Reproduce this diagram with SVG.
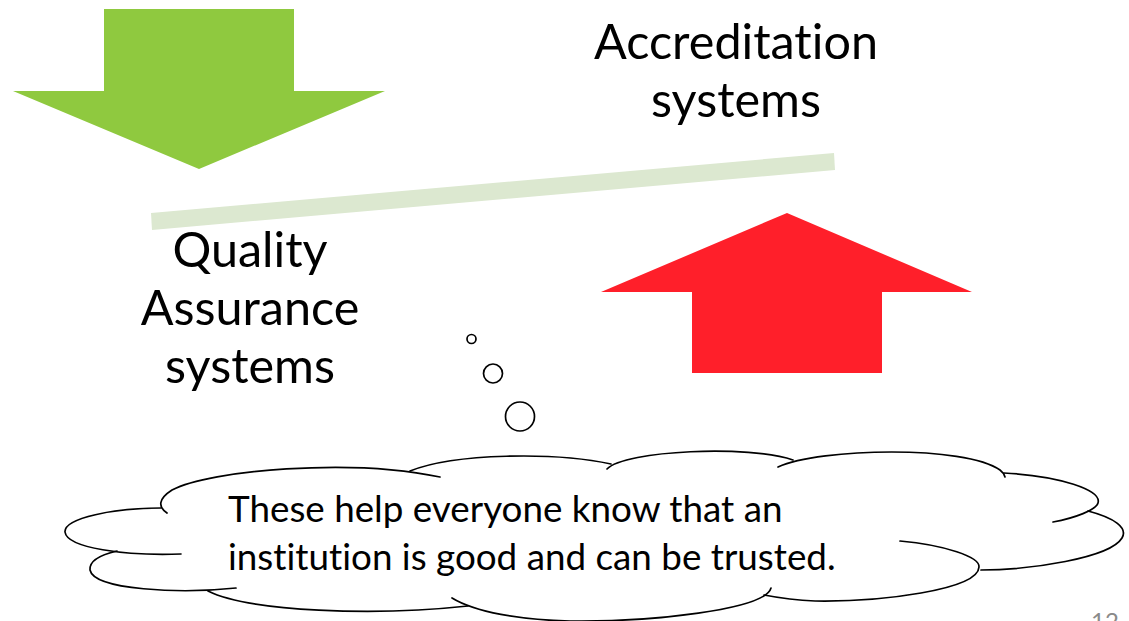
<svg xmlns="http://www.w3.org/2000/svg" width="1129" height="621" viewBox="0 0 1129 621">
<style>
text{font-family:"Lato","Carlito","Open Sans",sans-serif;fill:#000;font-variant-ligatures:none}
.big{font-size:48.500px;text-anchor:middle}
.say{font-size:36.800px}
.num{font-size:24px;fill:#8a8a8a}
.c{fill:none;stroke:#000;stroke-width:1.7;stroke-linecap:round}
.b{fill:#fff;stroke:#000;stroke-width:1.7}
</style>
<rect width="1129" height="621" fill="#fff"/>
<g id="arrow-down"><polygon fill="#8FC93F" points="104,9 294,9 294,91 385,91 199,169 13,91 104,91"/></g>
<g id="arrow-up"><polygon fill="#FF1F2A" points="787,213 972,292 882,292 882,373 692,373 692,292 601,292"/></g>
<g id="beam"><polygon fill="#DCE8D0" points="151,213 834,153 835,170 152,230"/></g>
<g id="accreditation"><text class="big" x="736" y="59">Accreditation</text><text class="big" x="736" y="117">systems</text></g>
<g id="quality"><text class="big" x="250" y="267">Quality</text><text class="big" x="250" y="325">Assurance</text><text class="big" x="250" y="383">systems</text></g>
<g id="bubbles"><circle class="b" cx="471.500" cy="339" r="4.500"/><circle class="b" cx="493" cy="373.500" r="9.500"/><circle class="b" cx="520" cy="416.500" r="14.500"/></g>
<g id="cloud">
<path class="c" d="M167 513C158 507 158 499 172 490C210 470 350 458 440 477"/>
<path class="c" d="M410 471C455 453 555 452 611 464"/>
<path class="c" d="M607 469C625 450 750 445 793 460"/>
<path class="c" d="M778 467C820 448 965 445 1000 470Q1004 473 1005 477"/>
<path class="c" d="M1004 473C1060 476 1102 490 1098 503C1096 510 1075 518 1053 522"/>
<path class="c" d="M1088 511C1115 518 1128 528 1122 538C1110 558 1030 570 981 570"/>
<path class="c" d="M900 541C945 545 980 557 979 567C978 590 880 602 815 601Q790 600 764 595"/>
<path class="c" d="M771 588C765 610 650 622 570 621C520 620 475 612 452 598"/>
<path class="c" d="M468 606C375 616 250 612 208 591"/>
<path class="c" d="M236 588C180 594 94 590 90 570C89 560 104 554 117 551"/>
<path class="c" d="M181 554C125 556 67 548 65 532C64 518 115 508 161 508"/>
</g>
<g id="cloud-text"><text class="say" x="228" y="522">These help everyone know that an</text><text class="say" x="228" y="570">institution is good and can be trusted.</text></g>
<g id="page-number"><text class="num" x="1091" y="630">12</text></g>
</svg>
